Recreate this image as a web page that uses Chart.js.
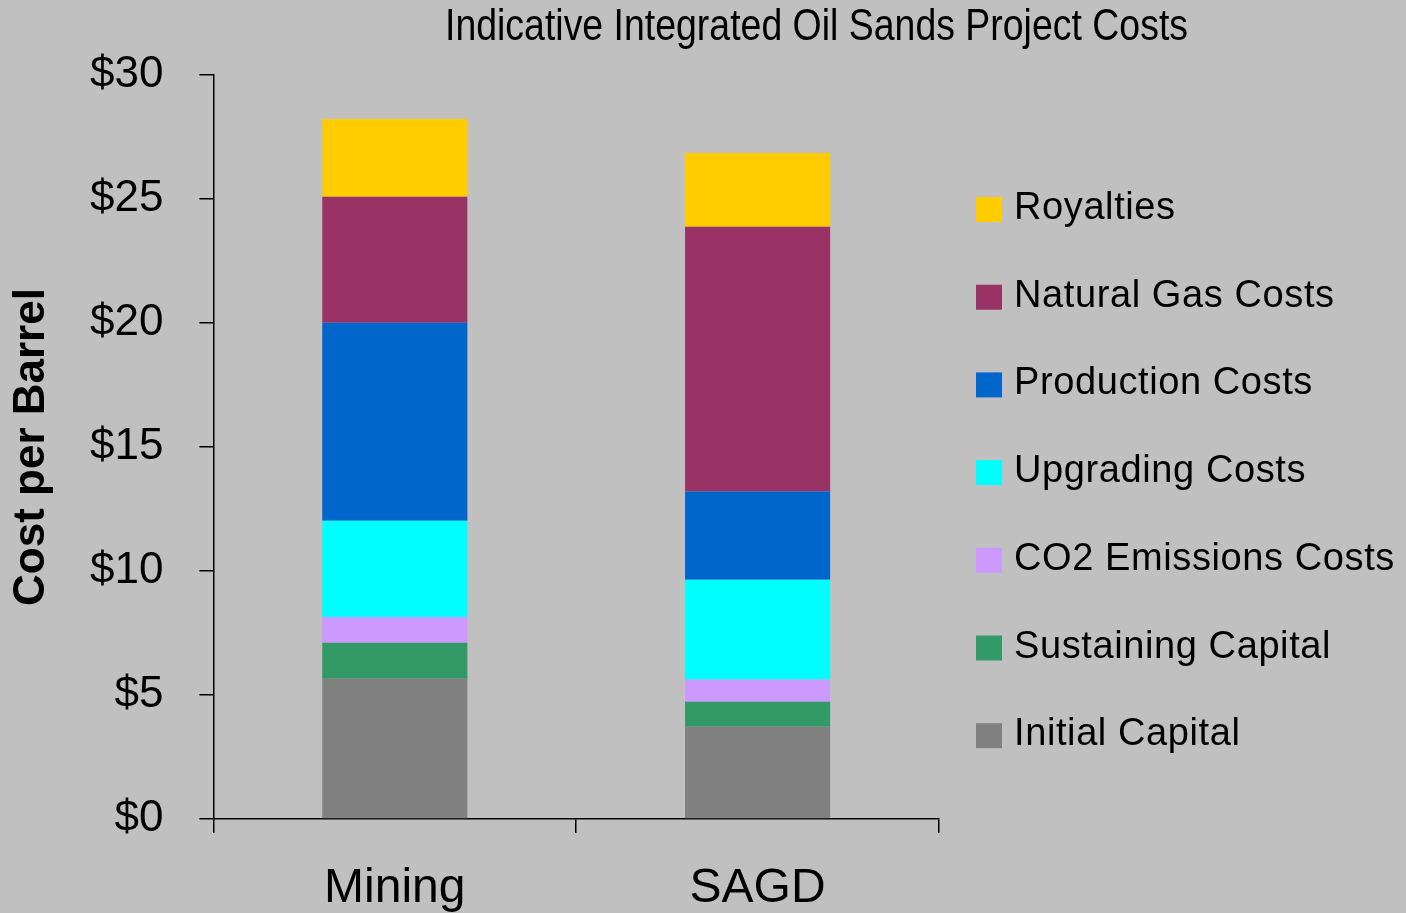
<!DOCTYPE html>
<html>
<head>
<meta charset="utf-8">
<script src="https://cdn.jsdelivr.net/npm/chart.js@4.4.1/dist/chart.umd.min.js"></script>
<style>
  html, body { margin: 0; padding: 0; background: #c0c0c0; }
  #wrap { width: 1406px; height: 913px; }
</style>
</head>
<body>
<div id="wrap"><canvas id="chart" width="1406" height="913"></canvas></div>
<script>
// values, $ per barrel
const categories = ['Mining', 'SAGD'];
const initialCapital = [5.66, 3.72];
const sustainingCapital = [1.45, 1.01];
const co2Costs = [1.04, 0.90];
const upgradingCosts = [3.88, 4.02];
const productionCosts = [7.98, 3.56];
const naturalGasCosts = [5.08, 10.67];
const royalties = [3.14, 2.97];
const yMin = 0, yMax = 30, yStep = 5;

const titleText = 'Indicative Integrated Oil Sands Project Costs';

// draws the title and the legend on the right
const extras = {
    id: 'extras',
    afterDraw(chart) {
        const ctx = chart.ctx;
        ctx.save();
        // title (narrow face in the original, squeeze to width)
        ctx.font = '44px "Liberation Sans Narrow", "Liberation Sans", Arial, sans-serif';
        ctx.fillStyle = '#000';
        ctx.textBaseline = 'alphabetic';
        ctx.textAlign = 'left';
        const w = ctx.measureText(titleText).width;
        const target = 743;
        ctx.translate(445, 40);
        ctx.scale(target / w, 1);
        ctx.fillText(titleText, 0, 0);
        ctx.restore();

        // legend
        ctx.save();
        ctx.font = '38px "Liberation Sans", Arial, sans-serif';
        ctx.letterSpacing = '0.6px';
        ctx.textBaseline = 'alphabetic';
        ctx.textAlign = 'left';
        const sets = chart.data.datasets.slice().reverse();
        sets.forEach((ds, i) => {
            const top = 197 + i * 87.7;
            ctx.fillStyle = ds.backgroundColor;
            ctx.fillRect(976, top, 26, 25);
            ctx.fillStyle = '#000';
            ctx.fillText(ds.label, 1014, top + 22);
        });
        ctx.restore();
    }
};

const ctx = document.getElementById('chart').getContext('2d');
const myChart = new Chart(ctx, {
    type: 'bar',
    data: {
        labels: categories,
        datasets: [
            { label: 'Initial Capital', data: initialCapital, backgroundColor: '#808080' },
            { label: 'Sustaining Capital', data: sustainingCapital, backgroundColor: '#339966' },
            { label: 'CO2 Emissions Costs', data: co2Costs, backgroundColor: '#cc99ff' },
            { label: 'Upgrading Costs', data: upgradingCosts, backgroundColor: '#00ffff' },
            { label: 'Production Costs', data: productionCosts, backgroundColor: '#0066cc' },
            { label: 'Natural Gas Costs', data: naturalGasCosts, backgroundColor: '#993366' },
            { label: 'Royalties', data: royalties, backgroundColor: '#ffcc00' }
        ]
    },
    options: {
        responsive: false,
        animation: false,
        layout: { padding: { top: 75, right: 467, bottom: -32, left: 10 } },
        datasets: { bar: { barPercentage: 1, categoryPercentage: 0.4, borderWidth: 0 } },
        plugins: {
            legend: { display: false },
            title: { display: false },
            tooltip: { enabled: false }
        },
        scales: {
            x: {
                stacked: true,
                grid: { drawOnChartArea: false, drawTicks: true, tickLength: 14, color: '#000', lineWidth: 1.5, offset: true },
                border: { color: '#000', width: 1.5 },
                ticks: {
                    color: '#000',
                    padding: 32,
                    font: { family: '"Liberation Sans", Arial, sans-serif', size: 48, lineHeight: 1 }
                }
            },
            y: {
                stacked: true,
                min: yMin,
                max: yMax,
                grid: { drawOnChartArea: false, drawTicks: true, tickLength: 14, color: '#000', lineWidth: 1.5 },
                border: { color: '#000', width: 1.5 },
                ticks: {
                    stepSize: yStep,
                    color: '#000',
                    padding: 36,
                    font: { family: '"Liberation Sans", Arial, sans-serif', size: 44 },
                    callback: (v) => '$' + v
                },
                title: {
                    display: true,
                    text: 'Cost per Barrel',
                    color: '#000',
                    padding: { top: 0, bottom: 0 },
                    font: { family: '"Liberation Sans", Arial, sans-serif', size: 44, weight: 'bold', lineHeight: 1 }
                }
            }
        }
    },
    plugins: [extras]
});
</script>
</body>
</html>
